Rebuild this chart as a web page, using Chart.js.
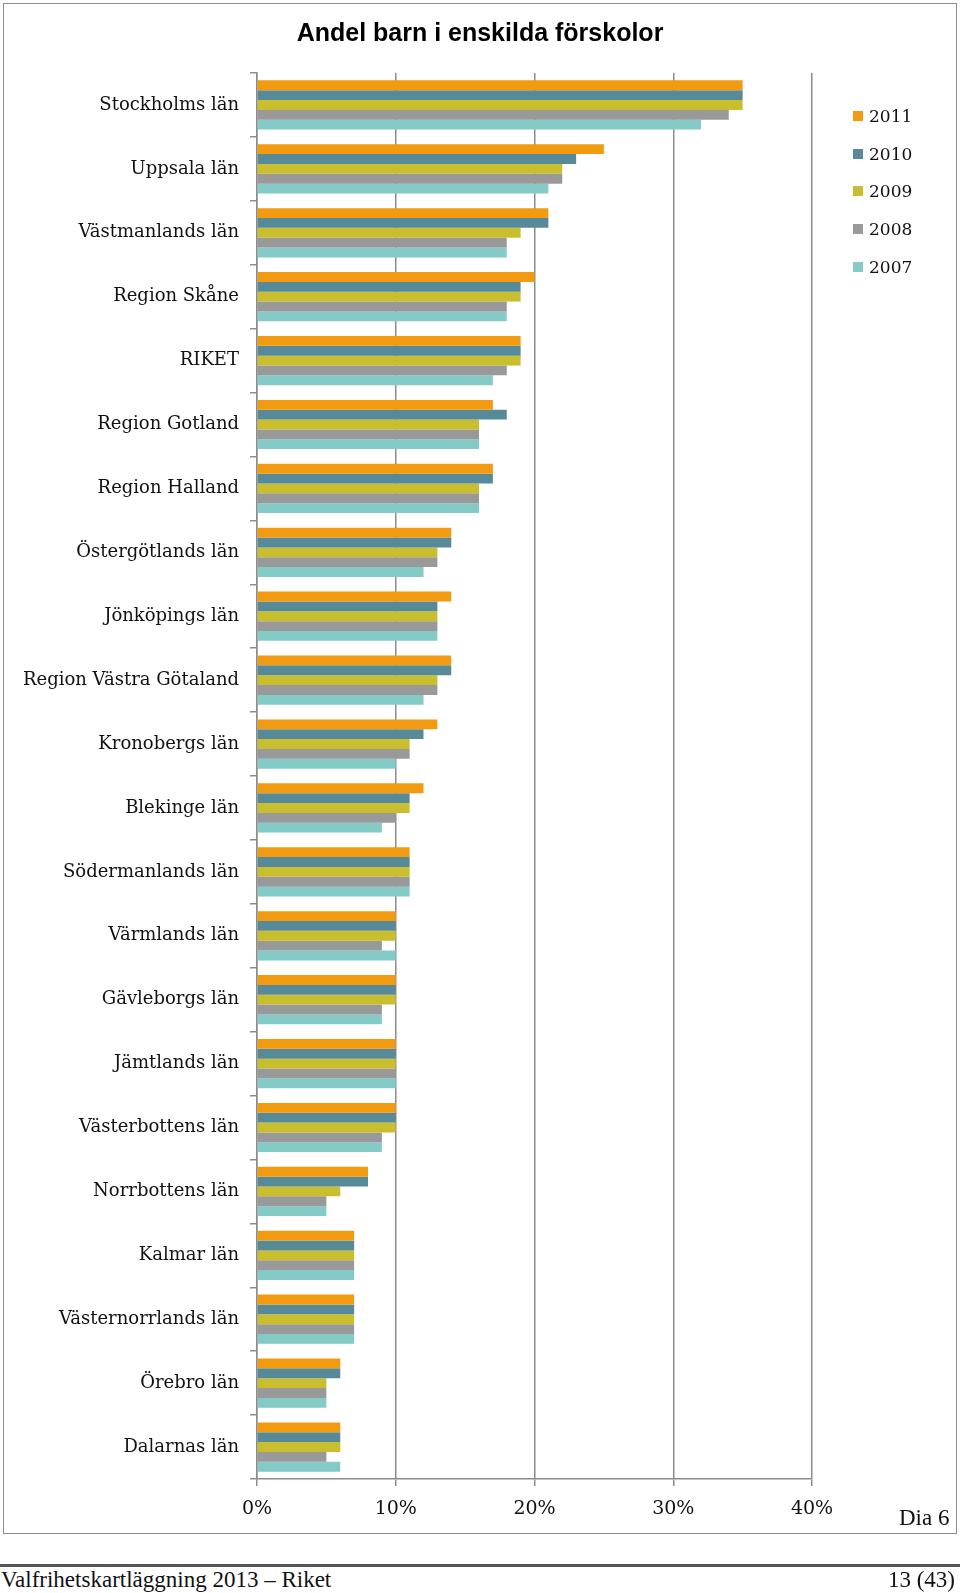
<!DOCTYPE html>
<html>
<head>
<meta charset="utf-8">
<script src="https://cdn.jsdelivr.net/npm/chart.js@4/dist/chart.umd.min.js"></script>
<style>
  html, body { margin: 0; padding: 0; background: #fff; }
  body { width: 960px; height: 1593px; position: relative; overflow: hidden; }
  #frame {
    position: absolute; left: 3px; top: 3px; width: 954px; height: 1531px;
    box-sizing: border-box; border: 1px solid #8c8c8c;
  }
  #chartCanvas { display: block; }
  #title {
    position: absolute; left: 0; width: 960px; top: 17px; text-align: center;
    font-family: "Liberation Sans", Arial, sans-serif; font-size: 25px; font-weight: bold; color: #000;
    line-height: 30px;
  }
  #legend { position: absolute; left: 853px; top: 97px; font-family: "DejaVu Serif", serif; font-size: 17px; color: #111; }
  #legend .item { height: 37.8px; display: flex; align-items: center; }
  #legend .box { width: 10px; height: 10px; margin-right: 6px; }
  #dia { position: absolute; left: 899px; top: 1505px; font-family: "Liberation Serif", serif; font-size: 23px; color: #111; }
  #footerLine { position: absolute; left: 0; top: 1564px; width: 960px; height: 3px; background: #555; }
  .footer { position: absolute; top: 1567px; font-family: "Liberation Serif", serif; font-size: 23px; color: #111; }
</style>
</head>
<body>
<div id="frame"><canvas id="chartCanvas" width="952" height="1529"></canvas></div>
<div id="title">Andel barn i enskilda förskolor</div>
<div id="legend"></div>
<div id="dia">Dia 6</div>
<div id="footerLine"></div>
<div class="footer" style="left:1px;">Valfrihetskartläggning 2013 – Riket</div>
<div class="footer" style="right:5px;">13 (43)</div>
<script>
const regions = [
  "Stockholms län", "Uppsala län", "Västmanlands län", "Region Skåne", "RIKET",
  "Region Gotland", "Region Halland", "Östergötlands län", "Jönköpings län",
  "Region Västra Götaland", "Kronobergs län", "Blekinge län", "Södermanlands län",
  "Värmlands län", "Gävleborgs län", "Jämtlands län", "Västerbottens län",
  "Norrbottens län", "Kalmar län", "Västernorrlands län", "Örebro län", "Dalarnas län",
];

const years = ["2011", "2010", "2009", "2008", "2007"];
const yearColors = ["#f29a10", "#568a98", "#c8be2e", "#999999", "#84cac7"];

const v2011 = [35, 25, 21, 20, 19, 17, 17, 14, 14, 14, 13, 12, 11, 10, 10, 10, 10, 8, 7, 7, 6, 6];
const v2010 = [35, 23, 21, 19, 19, 18, 17, 14, 13, 14, 12, 11, 11, 10, 10, 10, 10, 8, 7, 7, 6, 6];
const v2009 = [35, 22, 19, 19, 19, 16, 16, 13, 13, 13, 11, 11, 11, 10, 10, 10, 10, 6, 7, 7, 5, 6];
const v2008 = [34, 22, 18, 18, 18, 16, 16, 13, 13, 13, 11, 10, 11, 9, 9, 10, 9, 5, 7, 7, 5, 5];
const v2007 = [32, 21, 18, 18, 17, 16, 16, 12, 13, 12, 10, 9, 11, 10, 9, 10, 9, 5, 7, 7, 5, 6];

const xTicks = [0, 10, 20, 30, 40];

const seriesValues = [v2011, v2010, v2009, v2008, v2007];
const axisGrey = "#8c8c8c";
const labelFont = { family: "'DejaVu Serif', serif", size: 18 };

const datasets = years.map((year, i) => ({
  label: year,
  data: seriesValues[i],
  backgroundColor: yearColors[i],
  borderWidth: 0,
  barPercentage: 1,
  categoryPercentage: 0.77,
}));

const chart = new Chart(document.getElementById("chartCanvas"), {
  type: "bar",
  data: { labels: regions, datasets },
  options: {
    indexAxis: "y",
    responsive: false,
    animation: false,
    layout: { padding: { left: 0, right: 144, top: 69, bottom: 0 } },
    plugins: {
      legend: { display: false },
      tooltip: { enabled: false },
    },
    scales: {
      x: {
        min: 0,
        max: 40,
        afterBuildTicks: (scale) => {
          scale.ticks = xTicks.map((v) => ({ value: v }));
        },
        afterFit: (scale) => { scale.height = 54; },
        ticks: {
          callback: (v) => v + "%",
          color: "#111",
          font: { family: "'DejaVu Serif', serif", size: 19 },
          padding: 12,
          maxRotation: 0,
        },
        grid: { color: axisGrey, lineWidth: 1.5, tickLength: 7, drawTicks: true },
        border: { color: axisGrey, width: 1.5 },
      },
      y: {
        afterFit: (scale) => { scale.width = 253; },
        ticks: { color: "#111", font: labelFont, padding: 11, autoSkip: false },
        grid: { drawOnChartArea: false, color: axisGrey, lineWidth: 1.5, tickLength: 7, offset: true },
        border: { color: axisGrey, width: 1.5 },
      },
    },
  },
});

// legend built from the chart's own datasets
const legendEl = document.getElementById("legend");
chart.data.datasets.forEach((ds) => {
  const item = document.createElement("div");
  item.className = "item";
  item.innerHTML = `<span class="box" style="background:${ds.backgroundColor}"></span><span>${ds.label}</span>`;
  legendEl.appendChild(item);
});
</script>
</body>
</html>
